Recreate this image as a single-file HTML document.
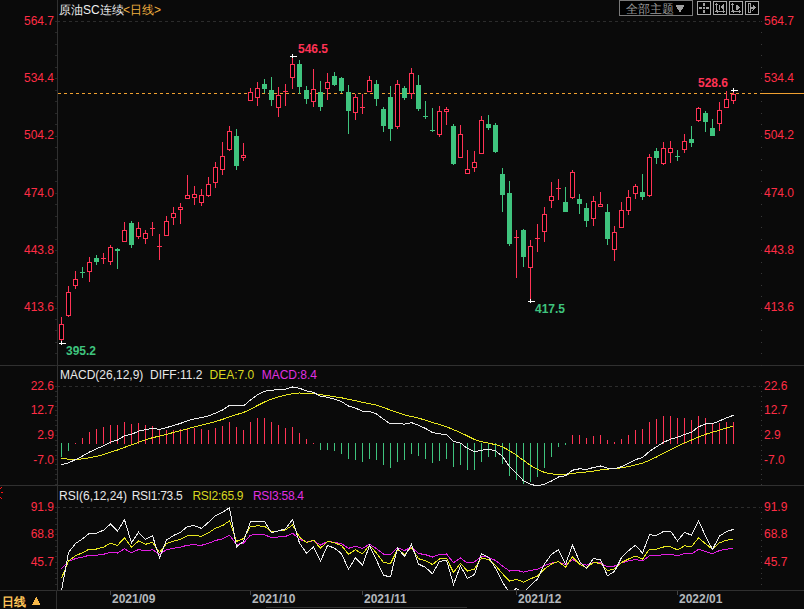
<!DOCTYPE html>
<html><head><meta charset="utf-8">
<style>
html,body{margin:0;padding:0;background:#0a0a0a;}
body{width:804px;height:609px;overflow:hidden;position:relative;font-family:"Liberation Sans",sans-serif;}
svg{position:absolute;left:0;top:0;}
.ax{font-size:12px;fill:#ff2d45;font-family:"Liberation Sans",sans-serif;}
.hd{font-size:12px;font-family:"Liberation Sans",sans-serif;}
.bd{font-size:12px;font-weight:bold;font-family:"Liberation Sans",sans-serif;}
</style></head><body>
<svg width="804" height="609" viewBox="0 0 804 609" shape-rendering="crispEdges">
<defs><clipPath id="rc"><rect x="58" y="486" width="703" height="104"/></clipPath></defs>
<rect width="804" height="609" fill="#0a0a0a"/>
<!-- frame -->
<rect x="57" y="0" width="1" height="590" fill="#303030"/><rect x="56" y="591" width="1" height="18" fill="#303030"/>
<rect x="0" y="365" width="804" height="1" fill="#303030"/>
<rect x="0" y="485" width="804" height="1" fill="#303030"/>
<rect x="0" y="590" width="804" height="1" fill="#303030"/>
<line x1="58" y1="21.5" x2="760" y2="21.5" stroke="#2c2c2c" stroke-dasharray="3,3" stroke-dashoffset="1"/>
<line x1="58" y1="386.5" x2="760" y2="386.5" stroke="#2c2c2c" stroke-dasharray="3,3" stroke-dashoffset="1"/>
<line x1="58" y1="507.5" x2="760" y2="507.5" stroke="#2c2c2c" stroke-dasharray="3,3" stroke-dashoffset="1"/>
<rect x="55" y="21" width="2" height="1" fill="#282828"/>
<rect x="761" y="21" width="1" height="1" fill="#383838"/>
<rect x="55" y="32" width="2" height="1" fill="#282828"/>
<rect x="761" y="32" width="1" height="1" fill="#383838"/>
<rect x="55" y="44" width="2" height="1" fill="#282828"/>
<rect x="761" y="44" width="1" height="1" fill="#383838"/>
<rect x="55" y="55" width="2" height="1" fill="#282828"/>
<rect x="761" y="55" width="1" height="1" fill="#383838"/>
<rect x="55" y="67" width="2" height="1" fill="#282828"/>
<rect x="761" y="67" width="1" height="1" fill="#383838"/>
<rect x="55" y="78" width="2" height="1" fill="#282828"/>
<rect x="761" y="78" width="1" height="1" fill="#383838"/>
<rect x="55" y="90" width="2" height="1" fill="#282828"/>
<rect x="761" y="90" width="1" height="1" fill="#383838"/>
<rect x="55" y="101" width="2" height="1" fill="#282828"/>
<rect x="761" y="101" width="1" height="1" fill="#383838"/>
<rect x="55" y="113" width="2" height="1" fill="#282828"/>
<rect x="761" y="113" width="1" height="1" fill="#383838"/>
<rect x="55" y="124" width="2" height="1" fill="#282828"/>
<rect x="761" y="124" width="1" height="1" fill="#383838"/>
<rect x="55" y="136" width="2" height="1" fill="#282828"/>
<rect x="761" y="136" width="1" height="1" fill="#383838"/>
<rect x="55" y="147" width="2" height="1" fill="#282828"/>
<rect x="761" y="147" width="1" height="1" fill="#383838"/>
<rect x="55" y="159" width="2" height="1" fill="#282828"/>
<rect x="761" y="159" width="1" height="1" fill="#383838"/>
<rect x="55" y="170" width="2" height="1" fill="#282828"/>
<rect x="761" y="170" width="1" height="1" fill="#383838"/>
<rect x="55" y="181" width="2" height="1" fill="#282828"/>
<rect x="761" y="181" width="1" height="1" fill="#383838"/>
<rect x="55" y="193" width="2" height="1" fill="#282828"/>
<rect x="761" y="193" width="1" height="1" fill="#383838"/>
<rect x="55" y="204" width="2" height="1" fill="#282828"/>
<rect x="761" y="204" width="1" height="1" fill="#383838"/>
<rect x="55" y="216" width="2" height="1" fill="#282828"/>
<rect x="761" y="216" width="1" height="1" fill="#383838"/>
<rect x="55" y="227" width="2" height="1" fill="#282828"/>
<rect x="761" y="227" width="1" height="1" fill="#383838"/>
<rect x="55" y="239" width="2" height="1" fill="#282828"/>
<rect x="761" y="239" width="1" height="1" fill="#383838"/>
<rect x="55" y="250" width="2" height="1" fill="#282828"/>
<rect x="761" y="250" width="1" height="1" fill="#383838"/>
<rect x="55" y="262" width="2" height="1" fill="#282828"/>
<rect x="761" y="262" width="1" height="1" fill="#383838"/>
<rect x="55" y="273" width="2" height="1" fill="#282828"/>
<rect x="761" y="273" width="1" height="1" fill="#383838"/>
<rect x="55" y="285" width="2" height="1" fill="#282828"/>
<rect x="761" y="285" width="1" height="1" fill="#383838"/>
<rect x="55" y="296" width="2" height="1" fill="#282828"/>
<rect x="761" y="296" width="1" height="1" fill="#383838"/>
<rect x="55" y="308" width="2" height="1" fill="#282828"/>
<rect x="761" y="308" width="1" height="1" fill="#383838"/>
<rect x="55" y="319" width="2" height="1" fill="#282828"/>
<rect x="761" y="319" width="1" height="1" fill="#383838"/>
<rect x="55" y="330" width="2" height="1" fill="#282828"/>
<rect x="761" y="330" width="1" height="1" fill="#383838"/>
<rect x="55" y="342" width="2" height="1" fill="#282828"/>
<rect x="761" y="342" width="1" height="1" fill="#383838"/>
<rect x="55" y="353" width="2" height="1" fill="#282828"/>
<rect x="761" y="353" width="1" height="1" fill="#383838"/>
<rect x="55" y="365" width="2" height="1" fill="#282828"/>
<rect x="761" y="365" width="1" height="1" fill="#383838"/>
<rect x="55" y="386" width="2" height="1" fill="#282828"/>
<rect x="761" y="386" width="1" height="1" fill="#383838"/>
<rect x="55" y="391" width="2" height="1" fill="#282828"/>
<rect x="761" y="391" width="1" height="1" fill="#383838"/>
<rect x="55" y="396" width="2" height="1" fill="#282828"/>
<rect x="761" y="396" width="1" height="1" fill="#383838"/>
<rect x="55" y="401" width="2" height="1" fill="#282828"/>
<rect x="761" y="401" width="1" height="1" fill="#383838"/>
<rect x="55" y="406" width="2" height="1" fill="#282828"/>
<rect x="761" y="406" width="1" height="1" fill="#383838"/>
<rect x="55" y="410" width="2" height="1" fill="#282828"/>
<rect x="761" y="410" width="1" height="1" fill="#383838"/>
<rect x="55" y="415" width="2" height="1" fill="#282828"/>
<rect x="761" y="415" width="1" height="1" fill="#383838"/>
<rect x="55" y="420" width="2" height="1" fill="#282828"/>
<rect x="761" y="420" width="1" height="1" fill="#383838"/>
<rect x="55" y="425" width="2" height="1" fill="#282828"/>
<rect x="761" y="425" width="1" height="1" fill="#383838"/>
<rect x="55" y="430" width="2" height="1" fill="#282828"/>
<rect x="761" y="430" width="1" height="1" fill="#383838"/>
<rect x="55" y="435" width="2" height="1" fill="#282828"/>
<rect x="761" y="435" width="1" height="1" fill="#383838"/>
<rect x="55" y="440" width="2" height="1" fill="#282828"/>
<rect x="761" y="440" width="1" height="1" fill="#383838"/>
<rect x="55" y="445" width="2" height="1" fill="#282828"/>
<rect x="761" y="445" width="1" height="1" fill="#383838"/>
<rect x="55" y="450" width="2" height="1" fill="#282828"/>
<rect x="761" y="450" width="1" height="1" fill="#383838"/>
<rect x="55" y="455" width="2" height="1" fill="#282828"/>
<rect x="761" y="455" width="1" height="1" fill="#383838"/>
<rect x="55" y="459" width="2" height="1" fill="#282828"/>
<rect x="761" y="459" width="1" height="1" fill="#383838"/>
<rect x="55" y="464" width="2" height="1" fill="#282828"/>
<rect x="761" y="464" width="1" height="1" fill="#383838"/>
<rect x="55" y="469" width="2" height="1" fill="#282828"/>
<rect x="761" y="469" width="1" height="1" fill="#383838"/>
<rect x="55" y="474" width="2" height="1" fill="#282828"/>
<rect x="761" y="474" width="1" height="1" fill="#383838"/>
<rect x="55" y="479" width="2" height="1" fill="#282828"/>
<rect x="761" y="479" width="1" height="1" fill="#383838"/>
<rect x="55" y="484" width="2" height="1" fill="#282828"/>
<rect x="761" y="484" width="1" height="1" fill="#383838"/>
<rect x="55" y="507" width="2" height="1" fill="#282828"/>
<rect x="761" y="507" width="1" height="1" fill="#383838"/>
<rect x="55" y="512" width="2" height="1" fill="#282828"/>
<rect x="761" y="512" width="1" height="1" fill="#383838"/>
<rect x="55" y="518" width="2" height="1" fill="#282828"/>
<rect x="761" y="518" width="1" height="1" fill="#383838"/>
<rect x="55" y="524" width="2" height="1" fill="#282828"/>
<rect x="761" y="524" width="1" height="1" fill="#383838"/>
<rect x="55" y="529" width="2" height="1" fill="#282828"/>
<rect x="761" y="529" width="1" height="1" fill="#383838"/>
<rect x="55" y="534" width="2" height="1" fill="#282828"/>
<rect x="761" y="534" width="1" height="1" fill="#383838"/>
<rect x="55" y="540" width="2" height="1" fill="#282828"/>
<rect x="761" y="540" width="1" height="1" fill="#383838"/>
<rect x="55" y="546" width="2" height="1" fill="#282828"/>
<rect x="761" y="546" width="1" height="1" fill="#383838"/>
<rect x="55" y="551" width="2" height="1" fill="#282828"/>
<rect x="761" y="551" width="1" height="1" fill="#383838"/>
<rect x="55" y="556" width="2" height="1" fill="#282828"/>
<rect x="761" y="556" width="1" height="1" fill="#383838"/>
<rect x="55" y="562" width="2" height="1" fill="#282828"/>
<rect x="761" y="562" width="1" height="1" fill="#383838"/>
<rect x="55" y="568" width="2" height="1" fill="#282828"/>
<rect x="761" y="568" width="1" height="1" fill="#383838"/>
<rect x="55" y="573" width="2" height="1" fill="#282828"/>
<rect x="761" y="573" width="1" height="1" fill="#383838"/>
<rect x="55" y="578" width="2" height="1" fill="#282828"/>
<rect x="761" y="578" width="1" height="1" fill="#383838"/>
<rect x="55" y="584" width="2" height="1" fill="#282828"/>
<rect x="761" y="584" width="1" height="1" fill="#383838"/>
<rect x="55" y="590" width="2" height="1" fill="#282828"/>
<rect x="761" y="590" width="1" height="1" fill="#383838"/>
<line x1="58" y1="93.5" x2="760" y2="93.5" stroke="#f0a030" stroke-dasharray="3,3"/>
<rect x="760" y="93" width="44" height="1" fill="#f0a030"/>
<rect x="61" y="317" width="1" height="7" fill="#ff3355"/>
<rect x="61" y="339" width="1" height="4" fill="#ff3355"/>
<rect x="59.5" y="324.5" width="4" height="15" fill="#000" stroke="#ff3355" stroke-width="1"/>
<rect x="68" y="286" width="1" height="6" fill="#ff3355"/>
<rect x="68" y="315" width="1" height="2" fill="#ff3355"/>
<rect x="66.5" y="292.5" width="4" height="23" fill="#000" stroke="#ff3355" stroke-width="1"/>
<rect x="75" y="271" width="1" height="8" fill="#ff3355"/>
<rect x="75" y="285" width="1" height="4" fill="#ff3355"/>
<rect x="73.5" y="279.5" width="4" height="6" fill="#000" stroke="#ff3355" stroke-width="1"/>
<rect x="82" y="267" width="1" height="11" fill="#3fc47e"/>
<rect x="80" y="272" width="5" height="1" fill="#3fc47e"/>
<rect x="89" y="257" width="1" height="5" fill="#ff3355"/>
<rect x="89" y="271" width="1" height="11" fill="#ff3355"/>
<rect x="87.5" y="262.5" width="4" height="9" fill="#000" stroke="#ff3355" stroke-width="1"/>
<rect x="96" y="255" width="1" height="10" fill="#3fc47e"/>
<rect x="94" y="258" width="5" height="4" fill="#3fc47e"/>
<rect x="101" y="258" width="5" height="1" fill="#ff3355"/>
<rect x="103" y="253" width="1" height="11" fill="#ff3355"/>
<rect x="110" y="245" width="1" height="2" fill="#ff3355"/>
<rect x="110" y="261" width="1" height="4" fill="#ff3355"/>
<rect x="108.5" y="247.5" width="4" height="14" fill="#000" stroke="#ff3355" stroke-width="1"/>
<rect x="117" y="248" width="1" height="21" fill="#3fc47e"/>
<rect x="115" y="249" width="5" height="2" fill="#3fc47e"/>
<rect x="124" y="222" width="1" height="8" fill="#ff3355"/>
<rect x="122.5" y="230.5" width="4" height="11" fill="#000" stroke="#ff3355" stroke-width="1"/>
<rect x="131" y="221" width="1" height="27" fill="#3fc47e"/>
<rect x="129" y="223" width="5" height="22" fill="#3fc47e"/>
<rect x="138" y="222" width="1" height="6" fill="#ff3355"/>
<rect x="138" y="236" width="1" height="3" fill="#ff3355"/>
<rect x="136.5" y="228.5" width="4" height="8" fill="#000" stroke="#ff3355" stroke-width="1"/>
<rect x="145" y="230" width="1" height="3" fill="#ff3355"/>
<rect x="145" y="238" width="1" height="6" fill="#ff3355"/>
<rect x="143.5" y="233.5" width="4" height="5" fill="#000" stroke="#ff3355" stroke-width="1"/>
<rect x="150" y="228" width="5" height="1" fill="#ff3355"/>
<rect x="152" y="222" width="1" height="14" fill="#ff3355"/>
<rect x="157" y="246" width="5" height="1" fill="#ff3355"/>
<rect x="159" y="234" width="1" height="26" fill="#ff3355"/>
<rect x="166" y="216" width="1" height="5" fill="#ff3355"/>
<rect x="164.5" y="221.5" width="4" height="14" fill="#000" stroke="#ff3355" stroke-width="1"/>
<rect x="173" y="207" width="1" height="6" fill="#ff3355"/>
<rect x="173" y="217" width="1" height="8" fill="#ff3355"/>
<rect x="171.5" y="213.5" width="4" height="4" fill="#000" stroke="#ff3355" stroke-width="1"/>
<rect x="180" y="203" width="1" height="4" fill="#ff3355"/>
<rect x="180" y="209" width="1" height="15" fill="#ff3355"/>
<rect x="178.5" y="207.5" width="4" height="2" fill="#000" stroke="#ff3355" stroke-width="1"/>
<rect x="187" y="175" width="1" height="20" fill="#ff3355"/>
<rect x="185.5" y="195.5" width="4" height="3" fill="#000" stroke="#ff3355" stroke-width="1"/>
<rect x="194" y="186" width="1" height="8" fill="#ff3355"/>
<rect x="194" y="197" width="1" height="8" fill="#ff3355"/>
<rect x="192.5" y="194.5" width="4" height="3" fill="#000" stroke="#ff3355" stroke-width="1"/>
<rect x="201" y="189" width="1" height="6" fill="#ff3355"/>
<rect x="201" y="202" width="1" height="4" fill="#ff3355"/>
<rect x="199.5" y="195.5" width="4" height="7" fill="#000" stroke="#ff3355" stroke-width="1"/>
<rect x="208" y="177" width="1" height="7" fill="#ff3355"/>
<rect x="208" y="195" width="1" height="2" fill="#ff3355"/>
<rect x="206.5" y="184.5" width="4" height="11" fill="#000" stroke="#ff3355" stroke-width="1"/>
<rect x="215" y="162" width="1" height="5" fill="#ff3355"/>
<rect x="215" y="182" width="1" height="6" fill="#ff3355"/>
<rect x="213.5" y="167.5" width="4" height="15" fill="#000" stroke="#ff3355" stroke-width="1"/>
<rect x="222" y="142" width="1" height="14" fill="#ff3355"/>
<rect x="222" y="169" width="1" height="6" fill="#ff3355"/>
<rect x="220.5" y="156.5" width="4" height="13" fill="#000" stroke="#ff3355" stroke-width="1"/>
<rect x="229" y="126" width="1" height="5" fill="#ff3355"/>
<rect x="229" y="149" width="1" height="2" fill="#ff3355"/>
<rect x="227.5" y="131.5" width="4" height="18" fill="#000" stroke="#ff3355" stroke-width="1"/>
<rect x="236" y="129" width="1" height="41" fill="#3fc47e"/>
<rect x="234" y="136" width="5" height="30" fill="#3fc47e"/>
<rect x="243" y="143" width="1" height="12" fill="#ff3355"/>
<rect x="243" y="157" width="1" height="4" fill="#ff3355"/>
<rect x="241.5" y="155.5" width="4" height="2" fill="#000" stroke="#ff3355" stroke-width="1"/>
<rect x="250" y="88" width="1" height="4" fill="#ff3355"/>
<rect x="248.5" y="92.5" width="4" height="8" fill="#000" stroke="#ff3355" stroke-width="1"/>
<rect x="257" y="82" width="1" height="6" fill="#ff3355"/>
<rect x="257" y="97" width="1" height="9" fill="#ff3355"/>
<rect x="255.5" y="88.5" width="4" height="9" fill="#000" stroke="#ff3355" stroke-width="1"/>
<rect x="264" y="79" width="1" height="14" fill="#3fc47e"/>
<rect x="262" y="84" width="5" height="5" fill="#3fc47e"/>
<rect x="271" y="77" width="1" height="29" fill="#3fc47e"/>
<rect x="269" y="90" width="5" height="10" fill="#3fc47e"/>
<rect x="278" y="87" width="1" height="8" fill="#ff3355"/>
<rect x="278" y="107" width="1" height="10" fill="#ff3355"/>
<rect x="276.5" y="95.5" width="4" height="12" fill="#000" stroke="#ff3355" stroke-width="1"/>
<rect x="283" y="91" width="5" height="1" fill="#ff3355"/>
<rect x="285" y="84" width="1" height="22" fill="#ff3355"/>
<rect x="292" y="56" width="1" height="8" fill="#ff3355"/>
<rect x="292" y="77" width="1" height="12" fill="#ff3355"/>
<rect x="290.5" y="64.5" width="4" height="13" fill="#000" stroke="#ff3355" stroke-width="1"/>
<rect x="299" y="60" width="1" height="34" fill="#3fc47e"/>
<rect x="297" y="64" width="5" height="23" fill="#3fc47e"/>
<rect x="306" y="86" width="1" height="18" fill="#3fc47e"/>
<rect x="304" y="90" width="5" height="9" fill="#3fc47e"/>
<rect x="313" y="69" width="1" height="20" fill="#ff3355"/>
<rect x="313" y="101" width="1" height="6" fill="#ff3355"/>
<rect x="311.5" y="89.5" width="4" height="12" fill="#000" stroke="#ff3355" stroke-width="1"/>
<rect x="320" y="81" width="1" height="30" fill="#3fc47e"/>
<rect x="318" y="92" width="5" height="15" fill="#3fc47e"/>
<rect x="327" y="73" width="1" height="9" fill="#ff3355"/>
<rect x="327" y="88" width="1" height="12" fill="#ff3355"/>
<rect x="325.5" y="82.5" width="4" height="6" fill="#000" stroke="#ff3355" stroke-width="1"/>
<rect x="334" y="72" width="1" height="14" fill="#3fc47e"/>
<rect x="332" y="76" width="5" height="9" fill="#3fc47e"/>
<rect x="341" y="77" width="1" height="16" fill="#3fc47e"/>
<rect x="339" y="78" width="5" height="13" fill="#3fc47e"/>
<rect x="348" y="85" width="1" height="49" fill="#3fc47e"/>
<rect x="346" y="92" width="5" height="19" fill="#3fc47e"/>
<rect x="355" y="94" width="1" height="3" fill="#ff3355"/>
<rect x="355" y="112" width="1" height="8" fill="#ff3355"/>
<rect x="353.5" y="97.5" width="4" height="15" fill="#000" stroke="#ff3355" stroke-width="1"/>
<rect x="360" y="107" width="5" height="1" fill="#ff3355"/>
<rect x="362" y="94" width="1" height="20" fill="#ff3355"/>
<rect x="369" y="76" width="1" height="4" fill="#ff3355"/>
<rect x="367.5" y="80.5" width="4" height="11" fill="#000" stroke="#ff3355" stroke-width="1"/>
<rect x="376" y="80" width="1" height="26" fill="#3fc47e"/>
<rect x="374" y="84" width="5" height="15" fill="#3fc47e"/>
<rect x="383" y="107" width="1" height="25" fill="#3fc47e"/>
<rect x="381" y="109" width="5" height="17" fill="#3fc47e"/>
<rect x="390" y="86" width="1" height="55" fill="#3fc47e"/>
<rect x="388" y="97" width="5" height="32" fill="#3fc47e"/>
<rect x="397" y="80" width="1" height="4" fill="#ff3355"/>
<rect x="397" y="126" width="1" height="3" fill="#ff3355"/>
<rect x="395.5" y="84.5" width="4" height="42" fill="#000" stroke="#ff3355" stroke-width="1"/>
<rect x="404" y="86" width="1" height="14" fill="#3fc47e"/>
<rect x="402" y="88" width="5" height="10" fill="#3fc47e"/>
<rect x="411" y="68" width="1" height="5" fill="#ff3355"/>
<rect x="411" y="93" width="1" height="6" fill="#ff3355"/>
<rect x="409.5" y="73.5" width="4" height="20" fill="#000" stroke="#ff3355" stroke-width="1"/>
<rect x="418" y="75" width="1" height="36" fill="#3fc47e"/>
<rect x="416" y="85" width="5" height="24" fill="#3fc47e"/>
<rect x="425" y="101" width="1" height="18" fill="#3fc47e"/>
<rect x="423" y="116" width="5" height="1" fill="#3fc47e"/>
<rect x="432" y="108" width="1" height="24" fill="#3fc47e"/>
<rect x="430" y="130" width="5" height="1" fill="#3fc47e"/>
<rect x="439" y="106" width="1" height="5" fill="#ff3355"/>
<rect x="439" y="134" width="1" height="3" fill="#ff3355"/>
<rect x="437.5" y="111.5" width="4" height="23" fill="#000" stroke="#ff3355" stroke-width="1"/>
<rect x="446" y="107" width="1" height="2" fill="#ff3355"/>
<rect x="446" y="111" width="1" height="14" fill="#ff3355"/>
<rect x="444.5" y="109.5" width="4" height="2" fill="#000" stroke="#ff3355" stroke-width="1"/>
<rect x="453" y="124" width="1" height="41" fill="#3fc47e"/>
<rect x="451" y="126" width="5" height="38" fill="#3fc47e"/>
<rect x="460" y="125" width="1" height="9" fill="#ff3355"/>
<rect x="458.5" y="134.5" width="4" height="23" fill="#000" stroke="#ff3355" stroke-width="1"/>
<rect x="467" y="150" width="1" height="19" fill="#ff3355"/>
<rect x="465.5" y="169.5" width="4" height="4" fill="#000" stroke="#ff3355" stroke-width="1"/>
<rect x="474" y="151" width="1" height="11" fill="#ff3355"/>
<rect x="474" y="167" width="1" height="5" fill="#ff3355"/>
<rect x="472.5" y="162.5" width="4" height="5" fill="#000" stroke="#ff3355" stroke-width="1"/>
<rect x="481" y="116" width="1" height="4" fill="#ff3355"/>
<rect x="479.5" y="120.5" width="4" height="33" fill="#000" stroke="#ff3355" stroke-width="1"/>
<rect x="488" y="115" width="1" height="15" fill="#3fc47e"/>
<rect x="486" y="124" width="5" height="4" fill="#3fc47e"/>
<rect x="495" y="123" width="1" height="30" fill="#3fc47e"/>
<rect x="493" y="125" width="5" height="27" fill="#3fc47e"/>
<rect x="502" y="168" width="1" height="44" fill="#3fc47e"/>
<rect x="500" y="174" width="5" height="21" fill="#3fc47e"/>
<rect x="509" y="181" width="1" height="65" fill="#3fc47e"/>
<rect x="507" y="193" width="5" height="51" fill="#3fc47e"/>
<rect x="514" y="237" width="5" height="1" fill="#ff3355"/>
<rect x="516" y="230" width="1" height="48" fill="#ff3355"/>
<rect x="523" y="229" width="1" height="38" fill="#3fc47e"/>
<rect x="521" y="230" width="5" height="27" fill="#3fc47e"/>
<rect x="530" y="240" width="1" height="6" fill="#ff3355"/>
<rect x="530" y="267" width="1" height="35" fill="#ff3355"/>
<rect x="528.5" y="246.5" width="4" height="21" fill="#000" stroke="#ff3355" stroke-width="1"/>
<rect x="535" y="238" width="5" height="1" fill="#ff3355"/>
<rect x="537" y="224" width="1" height="28" fill="#ff3355"/>
<rect x="544" y="207" width="1" height="7" fill="#ff3355"/>
<rect x="544" y="231" width="1" height="11" fill="#ff3355"/>
<rect x="542.5" y="214.5" width="4" height="17" fill="#000" stroke="#ff3355" stroke-width="1"/>
<rect x="551" y="182" width="1" height="14" fill="#ff3355"/>
<rect x="551" y="200" width="1" height="8" fill="#ff3355"/>
<rect x="549.5" y="196.5" width="4" height="4" fill="#000" stroke="#ff3355" stroke-width="1"/>
<rect x="556" y="188" width="5" height="1" fill="#ff3355"/>
<rect x="558" y="179" width="1" height="21" fill="#ff3355"/>
<rect x="565" y="187" width="1" height="25" fill="#3fc47e"/>
<rect x="563" y="202" width="5" height="10" fill="#3fc47e"/>
<rect x="572" y="170" width="1" height="2" fill="#ff3355"/>
<rect x="572" y="197" width="1" height="2" fill="#ff3355"/>
<rect x="570.5" y="172.5" width="4" height="25" fill="#000" stroke="#ff3355" stroke-width="1"/>
<rect x="579" y="194" width="1" height="20" fill="#3fc47e"/>
<rect x="577" y="199" width="5" height="5" fill="#3fc47e"/>
<rect x="586" y="203" width="1" height="24" fill="#3fc47e"/>
<rect x="584" y="208" width="5" height="13" fill="#3fc47e"/>
<rect x="593" y="196" width="1" height="5" fill="#ff3355"/>
<rect x="593" y="218" width="1" height="8" fill="#ff3355"/>
<rect x="591.5" y="201.5" width="4" height="17" fill="#000" stroke="#ff3355" stroke-width="1"/>
<rect x="600" y="192" width="1" height="12" fill="#ff3355"/>
<rect x="598.5" y="204.5" width="4" height="2" fill="#000" stroke="#ff3355" stroke-width="1"/>
<rect x="607" y="204" width="1" height="41" fill="#3fc47e"/>
<rect x="605" y="212" width="5" height="27" fill="#3fc47e"/>
<rect x="614" y="226" width="1" height="6" fill="#ff3355"/>
<rect x="614" y="249" width="1" height="12" fill="#ff3355"/>
<rect x="612.5" y="232.5" width="4" height="17" fill="#000" stroke="#ff3355" stroke-width="1"/>
<rect x="621" y="202" width="1" height="8" fill="#ff3355"/>
<rect x="619.5" y="210.5" width="4" height="17" fill="#000" stroke="#ff3355" stroke-width="1"/>
<rect x="628" y="190" width="1" height="7" fill="#ff3355"/>
<rect x="628" y="210" width="1" height="5" fill="#ff3355"/>
<rect x="626.5" y="197.5" width="4" height="13" fill="#000" stroke="#ff3355" stroke-width="1"/>
<rect x="635" y="184" width="1" height="2" fill="#ff3355"/>
<rect x="635" y="193" width="1" height="6" fill="#ff3355"/>
<rect x="633.5" y="186.5" width="4" height="7" fill="#000" stroke="#ff3355" stroke-width="1"/>
<rect x="642" y="174" width="1" height="26" fill="#3fc47e"/>
<rect x="640" y="192" width="5" height="5" fill="#3fc47e"/>
<rect x="649" y="154" width="1" height="3" fill="#ff3355"/>
<rect x="649" y="195" width="1" height="2" fill="#ff3355"/>
<rect x="647.5" y="157.5" width="4" height="38" fill="#000" stroke="#ff3355" stroke-width="1"/>
<rect x="656" y="148" width="1" height="16" fill="#3fc47e"/>
<rect x="654" y="151" width="5" height="7" fill="#3fc47e"/>
<rect x="663" y="142" width="1" height="6" fill="#ff3355"/>
<rect x="663" y="163" width="1" height="2" fill="#ff3355"/>
<rect x="661.5" y="148.5" width="4" height="15" fill="#000" stroke="#ff3355" stroke-width="1"/>
<rect x="670" y="141" width="1" height="7" fill="#ff3355"/>
<rect x="670" y="152" width="1" height="11" fill="#ff3355"/>
<rect x="668.5" y="148.5" width="4" height="4" fill="#000" stroke="#ff3355" stroke-width="1"/>
<rect x="677" y="150" width="1" height="11" fill="#3fc47e"/>
<rect x="675" y="156" width="5" height="1" fill="#3fc47e"/>
<rect x="684" y="134" width="1" height="7" fill="#ff3355"/>
<rect x="684" y="149" width="1" height="4" fill="#ff3355"/>
<rect x="682.5" y="141.5" width="4" height="8" fill="#000" stroke="#ff3355" stroke-width="1"/>
<rect x="691" y="126" width="1" height="21" fill="#3fc47e"/>
<rect x="689" y="139" width="5" height="4" fill="#3fc47e"/>
<rect x="698" y="107" width="1" height="1" fill="#ff3355"/>
<rect x="698" y="120" width="1" height="2" fill="#ff3355"/>
<rect x="696.5" y="108.5" width="4" height="12" fill="#000" stroke="#ff3355" stroke-width="1"/>
<rect x="705" y="111" width="1" height="21" fill="#3fc47e"/>
<rect x="703" y="113" width="5" height="9" fill="#3fc47e"/>
<rect x="712" y="119" width="1" height="17" fill="#3fc47e"/>
<rect x="710" y="128" width="5" height="8" fill="#3fc47e"/>
<rect x="719" y="102" width="1" height="8" fill="#ff3355"/>
<rect x="719" y="123" width="1" height="8" fill="#ff3355"/>
<rect x="717.5" y="110.5" width="4" height="13" fill="#000" stroke="#ff3355" stroke-width="1"/>
<rect x="726" y="91" width="1" height="8" fill="#ff3355"/>
<rect x="724.5" y="99.5" width="4" height="8" fill="#000" stroke="#ff3355" stroke-width="1"/>
<rect x="733" y="90" width="1" height="4" fill="#ff3355"/>
<rect x="733" y="100" width="1" height="4" fill="#ff3355"/>
<rect x="731.5" y="94.5" width="4" height="6" fill="#000" stroke="#ff3355" stroke-width="1"/>
<rect x="731" y="90" width="7" height="1" fill="#fff"/><rect x="733" y="88" width="1" height="4" fill="#fff"/><rect x="290" y="56" width="7" height="1" fill="#fff"/><rect x="292" y="54" width="1" height="4" fill="#fff"/><rect x="59" y="343" width="7" height="1" fill="#fff"/><rect x="61" y="341" width="1" height="4" fill="#fff"/><rect x="528" y="301" width="7" height="1" fill="#fff"/><rect x="530" y="299" width="1" height="4" fill="#fff"/>
<text x="298" y="53" class="bd" fill="#ff3355">546.5</text>
<text x="698" y="87" class="bd" fill="#ff3355">528.6</text>
<text x="66" y="355" class="bd" fill="#3fc47e">395.2</text>
<text x="535" y="313" class="bd" fill="#3fc47e">417.5</text>
<rect x="61" y="443" width="1" height="14" fill="#3fc47e"/>
<rect x="68" y="443" width="1" height="8" fill="#3fc47e"/>
<rect x="75" y="443" width="1" height="1" fill="#ff3355"/>
<rect x="82" y="438" width="1" height="6" fill="#ff3355"/>
<rect x="89" y="432" width="1" height="12" fill="#ff3355"/>
<rect x="96" y="429" width="1" height="15" fill="#ff3355"/>
<rect x="103" y="427" width="1" height="17" fill="#ff3355"/>
<rect x="110" y="425" width="1" height="19" fill="#ff3355"/>
<rect x="117" y="425" width="1" height="19" fill="#ff3355"/>
<rect x="124" y="422" width="1" height="22" fill="#ff3355"/>
<rect x="131" y="424" width="1" height="20" fill="#ff3355"/>
<rect x="138" y="423" width="1" height="21" fill="#ff3355"/>
<rect x="145" y="425" width="1" height="19" fill="#ff3355"/>
<rect x="152" y="426" width="1" height="18" fill="#ff3355"/>
<rect x="159" y="430" width="1" height="14" fill="#ff3355"/>
<rect x="166" y="430" width="1" height="14" fill="#ff3355"/>
<rect x="173" y="430" width="1" height="14" fill="#ff3355"/>
<rect x="180" y="429" width="1" height="15" fill="#ff3355"/>
<rect x="187" y="428" width="1" height="16" fill="#ff3355"/>
<rect x="194" y="428" width="1" height="16" fill="#ff3355"/>
<rect x="201" y="429" width="1" height="15" fill="#ff3355"/>
<rect x="208" y="430" width="1" height="14" fill="#ff3355"/>
<rect x="215" y="428" width="1" height="16" fill="#ff3355"/>
<rect x="222" y="426" width="1" height="18" fill="#ff3355"/>
<rect x="229" y="422" width="1" height="22" fill="#ff3355"/>
<rect x="236" y="427" width="1" height="17" fill="#ff3355"/>
<rect x="243" y="430" width="1" height="14" fill="#ff3355"/>
<rect x="250" y="422" width="1" height="22" fill="#ff3355"/>
<rect x="257" y="418" width="1" height="26" fill="#ff3355"/>
<rect x="264" y="418" width="1" height="26" fill="#ff3355"/>
<rect x="271" y="422" width="1" height="22" fill="#ff3355"/>
<rect x="278" y="425" width="1" height="19" fill="#ff3355"/>
<rect x="285" y="428" width="1" height="16" fill="#ff3355"/>
<rect x="292" y="427" width="1" height="17" fill="#ff3355"/>
<rect x="299" y="433" width="1" height="11" fill="#ff3355"/>
<rect x="306" y="439" width="1" height="5" fill="#ff3355"/>
<rect x="313" y="443" width="1" height="1" fill="#ff3355"/>
<rect x="320" y="443" width="1" height="7" fill="#3fc47e"/>
<rect x="327" y="443" width="1" height="7" fill="#3fc47e"/>
<rect x="334" y="443" width="1" height="8" fill="#3fc47e"/>
<rect x="341" y="443" width="1" height="11" fill="#3fc47e"/>
<rect x="348" y="443" width="1" height="16" fill="#3fc47e"/>
<rect x="355" y="443" width="1" height="17" fill="#3fc47e"/>
<rect x="362" y="443" width="1" height="19" fill="#3fc47e"/>
<rect x="369" y="443" width="1" height="16" fill="#3fc47e"/>
<rect x="376" y="443" width="1" height="17" fill="#3fc47e"/>
<rect x="383" y="443" width="1" height="22" fill="#3fc47e"/>
<rect x="390" y="443" width="1" height="25" fill="#3fc47e"/>
<rect x="397" y="443" width="1" height="19" fill="#3fc47e"/>
<rect x="404" y="443" width="1" height="17" fill="#3fc47e"/>
<rect x="411" y="443" width="1" height="11" fill="#3fc47e"/>
<rect x="418" y="443" width="1" height="13" fill="#3fc47e"/>
<rect x="425" y="443" width="1" height="16" fill="#3fc47e"/>
<rect x="432" y="443" width="1" height="20" fill="#3fc47e"/>
<rect x="439" y="443" width="1" height="18" fill="#3fc47e"/>
<rect x="446" y="443" width="1" height="16" fill="#3fc47e"/>
<rect x="453" y="443" width="1" height="24" fill="#3fc47e"/>
<rect x="460" y="443" width="1" height="22" fill="#3fc47e"/>
<rect x="467" y="443" width="1" height="27" fill="#3fc47e"/>
<rect x="474" y="443" width="1" height="27" fill="#3fc47e"/>
<rect x="481" y="443" width="1" height="19" fill="#3fc47e"/>
<rect x="488" y="443" width="1" height="14" fill="#3fc47e"/>
<rect x="495" y="443" width="1" height="14" fill="#3fc47e"/>
<rect x="502" y="443" width="1" height="21" fill="#3fc47e"/>
<rect x="509" y="443" width="1" height="33" fill="#3fc47e"/>
<rect x="516" y="443" width="1" height="37" fill="#3fc47e"/>
<rect x="523" y="443" width="1" height="41" fill="#3fc47e"/>
<rect x="530" y="443" width="1" height="39" fill="#3fc47e"/>
<rect x="537" y="443" width="1" height="34" fill="#3fc47e"/>
<rect x="544" y="443" width="1" height="25" fill="#3fc47e"/>
<rect x="551" y="443" width="1" height="14" fill="#3fc47e"/>
<rect x="558" y="443" width="1" height="4" fill="#3fc47e"/>
<rect x="565" y="443" width="1" height="2" fill="#3fc47e"/>
<rect x="572" y="435" width="1" height="9" fill="#ff3355"/>
<rect x="579" y="435" width="1" height="9" fill="#ff3355"/>
<rect x="586" y="438" width="1" height="6" fill="#ff3355"/>
<rect x="593" y="436" width="1" height="8" fill="#ff3355"/>
<rect x="600" y="435" width="1" height="9" fill="#ff3355"/>
<rect x="607" y="440" width="1" height="4" fill="#ff3355"/>
<rect x="614" y="442" width="1" height="2" fill="#ff3355"/>
<rect x="621" y="439" width="1" height="5" fill="#ff3355"/>
<rect x="628" y="435" width="1" height="9" fill="#ff3355"/>
<rect x="635" y="430" width="1" height="14" fill="#ff3355"/>
<rect x="642" y="429" width="1" height="15" fill="#ff3355"/>
<rect x="649" y="422" width="1" height="22" fill="#ff3355"/>
<rect x="656" y="419" width="1" height="25" fill="#ff3355"/>
<rect x="663" y="416" width="1" height="28" fill="#ff3355"/>
<rect x="670" y="416" width="1" height="28" fill="#ff3355"/>
<rect x="677" y="418" width="1" height="26" fill="#ff3355"/>
<rect x="684" y="418" width="1" height="26" fill="#ff3355"/>
<rect x="691" y="420" width="1" height="24" fill="#ff3355"/>
<rect x="698" y="416" width="1" height="28" fill="#ff3355"/>
<rect x="705" y="418" width="1" height="26" fill="#ff3355"/>
<rect x="712" y="423" width="1" height="21" fill="#ff3355"/>
<rect x="719" y="423" width="1" height="21" fill="#ff3355"/>
<rect x="726" y="422" width="1" height="22" fill="#ff3355"/>
<rect x="733" y="422" width="1" height="22" fill="#ff3355"/><polyline points="61.5,458.1 68.5,459.2 75.5,459.4 82.5,458.9 89.5,457.8 96.5,456.4 103.5,454.5 110.5,452.3 117.5,450.0 124.5,447.4 131.5,444.9 138.5,442.3 145.5,439.9 152.5,437.7 159.5,436.1 166.5,434.3 173.5,432.5 180.5,430.7 187.5,428.8 194.5,426.9 201.5,425.2 208.5,423.4 215.5,421.5 222.5,419.4 229.5,416.8 236.5,414.6 243.5,412.5 250.5,409.3 257.5,405.5 264.5,402.0 271.5,399.1 278.5,396.8 285.5,395.2 292.5,393.7 299.5,393.0 306.5,393.2 313.5,393.6 320.5,394.6 327.5,395.6 334.5,396.7 341.5,397.8 348.5,399.3 355.5,400.7 362.5,402.4 369.5,403.7 376.5,405.2 383.5,407.4 390.5,410.2 397.5,412.6 404.5,414.9 411.5,416.5 418.5,418.2 425.5,420.1 432.5,422.4 439.5,424.6 446.5,426.7 453.5,429.7 460.5,432.6 467.5,436.0 474.5,439.5 481.5,441.7 488.5,443.2 495.5,444.6 502.5,446.9 509.5,450.6 516.5,455.2 523.5,460.4 530.5,465.4 537.5,469.5 544.5,472.4 551.5,473.9 558.5,474.4 565.5,474.4 572.5,473.5 579.5,472.5 586.5,472.0 593.5,471.1 600.5,469.9 607.5,469.1 614.5,468.6 621.5,467.8 628.5,466.6 635.5,464.9 642.5,463.1 649.5,460.3 656.5,457.0 663.5,453.3 670.5,449.6 677.5,446.2 684.5,442.9 691.5,440.0 698.5,437.0 705.5,434.3 712.5,432.3 719.5,430.1 726.5,428.0 733.5,425.9" fill="none" stroke="#e6e61e" stroke-width="1"/><polyline points="61.5,464.8 68.5,462.8 75.5,459.6 82.5,456.1 89.5,452.0 96.5,448.8 103.5,445.8 110.5,442.3 117.5,440.0 124.5,435.9 131.5,434.3 138.5,431.2 145.5,429.7 152.5,428.3 159.5,429.3 166.5,427.6 173.5,425.5 180.5,423.4 187.5,420.8 194.5,418.8 201.5,417.6 208.5,415.9 215.5,413.1 222.5,410.0 229.5,405.3 236.5,406.0 243.5,405.9 250.5,399.9 257.5,394.9 264.5,391.3 271.5,390.2 278.5,389.6 285.5,389.3 292.5,387.0 299.5,388.2 306.5,390.9 313.5,392.4 320.5,396.2 327.5,397.3 334.5,399.1 341.5,401.6 348.5,406.0 355.5,408.1 362.5,411.2 369.5,411.3 376.5,413.9 383.5,419.2 390.5,424.0 397.5,423.2 404.5,424.2 411.5,422.6 418.5,425.3 425.5,428.5 432.5,432.5 439.5,433.8 446.5,434.7 453.5,441.3 460.5,443.1 467.5,448.4 474.5,451.9 481.5,450.2 488.5,449.2 495.5,450.7 502.5,456.4 509.5,466.5 516.5,473.7 523.5,480.8 530.5,484.4 537.5,485.8 544.5,484.3 551.5,481.0 558.5,477.0 565.5,475.7 572.5,470.2 579.5,468.8 586.5,469.3 593.5,467.5 600.5,466.0 607.5,468.2 614.5,468.8 621.5,466.7 628.5,463.4 635.5,459.6 642.5,457.5 649.5,451.4 656.5,446.8 663.5,442.4 670.5,439.2 677.5,437.4 684.5,434.4 691.5,432.2 698.5,426.8 705.5,424.0 712.5,423.6 719.5,420.9 726.5,417.9 733.5,415.3" fill="none" stroke="#ececec" stroke-width="1"/>
<g clip-path="url(#rc)"><polyline points="61.5,568.7 68.5,561.3 75.5,558.6 82.5,557.1 89.5,555.2 96.5,555.2 103.5,554.3 110.5,552.2 117.5,553.1 124.5,548.9 131.5,552.8 138.5,549.5 145.5,550.9 152.5,549.8 159.5,554.3 166.5,549.7 173.5,548.2 180.5,547.2 187.5,545.1 194.5,544.8 201.5,545.3 208.5,543.3 215.5,540.5 222.5,538.8 229.5,535.2 236.5,544.7 243.5,543.1 250.5,535.1 257.5,534.7 264.5,534.8 271.5,537.6 278.5,537.0 285.5,536.4 292.5,533.3 299.5,539.2 306.5,542.1 313.5,540.8 320.5,545.0 327.5,541.6 334.5,542.3 341.5,543.7 348.5,548.3 355.5,546.3 362.5,548.4 369.5,544.3 376.5,548.6 383.5,554.1 390.5,554.6 397.5,547.8 404.5,550.5 411.5,547.1 418.5,553.5 425.5,554.7 432.5,557.0 439.5,554.3 446.5,554.0 453.5,562.7 460.5,558.1 467.5,563.0 474.5,562.0 481.5,556.1 488.5,557.2 495.5,560.5 502.5,565.9 509.5,571.1 516.5,570.2 523.5,572.1 530.5,570.5 537.5,569.2 544.5,565.6 551.5,563.1 558.5,561.8 565.5,564.8 572.5,559.4 579.5,563.2 586.5,565.2 593.5,562.5 600.5,562.9 607.5,566.9 614.5,566.0 621.5,562.8 628.5,561.0 635.5,559.6 642.5,560.9 649.5,555.7 656.5,555.7 663.5,554.5 670.5,554.4 677.5,555.7 684.5,553.6 691.5,554.0 698.5,549.3 705.5,551.6 712.5,553.9 719.5,550.5 726.5,549.1 733.5,548.5" fill="none" stroke="#e21ee2" stroke-width="1"/><polyline points="61.5,578.2 68.5,561.1 75.5,555.7 82.5,552.7 89.5,549.0 96.5,549.0 103.5,547.2 110.5,543.1 117.5,545.5 124.5,537.7 131.5,547.2 138.5,541.0 145.5,544.3 152.5,542.3 159.5,552.6 166.5,543.7 173.5,541.2 180.5,539.3 187.5,535.7 194.5,535.3 201.5,536.3 208.5,532.9 215.5,528.2 222.5,525.6 229.5,520.8 236.5,541.4 243.5,538.6 250.5,526.5 257.5,525.9 264.5,526.2 271.5,531.9 278.5,531.0 285.5,530.0 292.5,525.0 299.5,537.1 306.5,542.6 313.5,540.1 320.5,548.2 327.5,541.4 334.5,542.8 341.5,545.6 348.5,554.2 355.5,549.8 362.5,553.8 369.5,545.2 376.5,553.1 383.5,562.5 390.5,563.5 397.5,549.5 404.5,554.2 411.5,547.7 418.5,558.7 425.5,560.7 432.5,564.5 439.5,558.9 446.5,558.3 453.5,572.5 460.5,563.3 467.5,571.1 474.5,569.0 481.5,557.9 488.5,559.7 495.5,565.4 502.5,573.7 509.5,581.2 516.5,579.3 523.5,582.1 530.5,578.8 537.5,576.1 544.5,569.0 551.5,564.0 558.5,561.5 565.5,567.3 572.5,556.9 579.5,564.2 586.5,567.7 593.5,562.6 600.5,563.3 607.5,570.8 614.5,568.9 621.5,562.5 628.5,559.0 635.5,556.1 642.5,559.1 649.5,549.1 656.5,549.2 663.5,547.0 670.5,546.8 677.5,549.9 684.5,545.8 691.5,546.7 698.5,538.0 705.5,543.7 712.5,549.4 719.5,542.8 726.5,540.2 733.5,539.0" fill="none" stroke="#e6e61e" stroke-width="1"/><polyline points="61.5,590.7 68.5,552.6 75.5,543.5 82.5,538.8 89.5,533.1 96.5,533.1 103.5,530.2 110.5,524.0 117.5,531.2 124.5,519.8 131.5,542.8 138.5,532.2 145.5,539.4 152.5,535.7 159.5,557.8 166.5,540.1 173.5,535.5 180.5,532.3 187.5,526.4 194.5,525.7 201.5,528.4 208.5,522.3 215.5,515.6 222.5,512.4 229.5,507.7 236.5,546.9 243.5,541.4 250.5,521.9 257.5,521.1 264.5,521.5 271.5,532.7 278.5,530.9 285.5,528.8 292.5,519.5 299.5,543.2 306.5,553.1 313.5,547.0 320.5,561.3 327.5,545.5 334.5,548.1 341.5,553.7 348.5,569.2 355.5,557.8 362.5,565.2 369.5,545.5 376.5,560.3 383.5,575.4 390.5,576.8 397.5,547.9 404.5,556.4 411.5,544.5 418.5,564.1 425.5,567.4 432.5,573.8 439.5,561.5 446.5,560.2 453.5,584.4 460.5,566.0 467.5,578.5 474.5,574.4 481.5,553.6 488.5,557.3 495.5,568.2 502.5,582.2 509.5,592.5 516.5,588.5 523.5,592.6 530.5,585.2 537.5,579.1 544.5,563.9 551.5,554.3 558.5,549.8 565.5,564.3 572.5,545.1 579.5,561.4 586.5,568.5 593.5,558.4 600.5,559.9 607.5,575.8 614.5,571.4 621.5,557.6 628.5,550.7 635.5,545.2 642.5,553.1 649.5,534.9 656.5,535.2 663.5,531.5 670.5,531.1 677.5,540.9 684.5,532.4 691.5,535.2 698.5,520.7 705.5,536.0 712.5,549.4 719.5,536.1 726.5,531.5 733.5,529.4" fill="none" stroke="#ececec" stroke-width="1"/></g>
<text x="54" y="25.0" text-anchor="end" class="ax">564.7</text>
<text x="764" y="25.0" class="ax">564.7</text>
<text x="54" y="81.5" text-anchor="end" class="ax">534.4</text>
<text x="764" y="81.5" class="ax">534.4</text>
<text x="54" y="138.5" text-anchor="end" class="ax">504.2</text>
<text x="764" y="138.5" class="ax">504.2</text>
<text x="54" y="197.0" text-anchor="end" class="ax">474.0</text>
<text x="764" y="197.0" class="ax">474.0</text>
<text x="54" y="254.0" text-anchor="end" class="ax">443.8</text>
<text x="764" y="254.0" class="ax">443.8</text>
<text x="54" y="310.5" text-anchor="end" class="ax">413.6</text>
<text x="764" y="310.5" class="ax">413.6</text>
<text x="54" y="389.5" text-anchor="end" class="ax">22.6</text>
<text x="764" y="389.5" class="ax">22.6</text>
<text x="54" y="414.2" text-anchor="end" class="ax">12.7</text>
<text x="764" y="414.2" class="ax">12.7</text>
<text x="54" y="439.0" text-anchor="end" class="ax">2.9</text>
<text x="764" y="439.0" class="ax">2.9</text>
<text x="54" y="463.5" text-anchor="end" class="ax">-7.0</text>
<text x="764" y="463.5" class="ax">-7.0</text>
<text x="54" y="511.0" text-anchor="end" class="ax">91.9</text>
<text x="764" y="511.0" class="ax">91.9</text>
<text x="54" y="537.5" text-anchor="end" class="ax">68.8</text>
<text x="764" y="537.5" class="ax">68.8</text>
<text x="54" y="565.5" text-anchor="end" class="ax">45.7</text>
<text x="764" y="565.5" class="ax">45.7</text>
<text x="59" y="14" class="hd" fill="#f0f0f0">原油SC连续</text><text x="123" y="14" class="hd" fill="#f0b040">&lt;日线&gt;</text>
<text x="60" y="379" class="hd" fill="#e8e8e8">MACD(26,12,9)</text><text x="150" y="379" class="hd" fill="#e8e8e8">DIFF:11.2</text><text x="209.5" y="379" class="hd" fill="#d8d820">DEA:7.0</text><text x="261.7" y="379" class="hd" fill="#e030e0">MACD:8.4</text>
<text x="59" y="500" class="hd" fill="#e8e8e8">RSI(6,12,24)</text><text x="131.7" y="500" class="hd" fill="#e8e8e8" letter-spacing="-0.3">RSI1:73.5</text><text x="192.5" y="500" class="hd" fill="#d8d820" letter-spacing="-0.3">RSI2:65.9</text><text x="253" y="500" class="hd" fill="#e030e0" letter-spacing="-0.3">RSI3:58.4</text>
<g fill="#ff1010"><rect x="0" y="488" width="1" height="1"/><rect x="1" y="487" width="1" height="1"/><rect x="1" y="492" width="2" height="1"/><rect x="0" y="497" width="1" height="1"/><rect x="1" y="498" width="1" height="1"/></g>
<!-- bottom bar -->
<text x="1.5" y="606" class="bd" fill="#ffc458">日线</text>
<polygon points="36.2,596.5 40.5,605 32,605" fill="#f8b848"/>
<g class="bd" fill="#b4b8bc">
<rect x="110" y="591" width="1" height="4" fill="#444"/><text x="112" y="603">2021/09</text>
<rect x="250" y="591" width="1" height="4" fill="#444"/><text x="252" y="603">2021/10</text>
<rect x="362" y="591" width="1" height="4" fill="#444"/><text x="364" y="603">2021/11</text>
<rect x="516" y="591" width="1" height="4" fill="#444"/><text x="518" y="603">2021/12</text>
<rect x="677" y="591" width="1" height="4" fill="#444"/><text x="679" y="603">2022/01</text>
</g>
<rect x="266" y="607" width="201" height="1" fill="#303030"/>
<!-- toolbar -->
<rect x="619.5" y="0.5" width="73" height="15" fill="none" stroke="#7a7a7a"/>
<rect x="620" y="1" width="72" height="14" fill="#000"/><text x="626" y="13" class="hd" fill="#9a9a9a">全部主题</text><polygon points="675.5,5 684.5,5 680,13" fill="#a0a0a0"/>
<rect x="697.5" y="1.5" width="13" height="13" fill="#000" stroke="#a8a8a8"/>
<rect x="713.5" y="1.5" width="13" height="13" fill="#000" stroke="#a8a8a8"/>
<rect x="729.5" y="1.5" width="13" height="13" fill="#000" stroke="#a8a8a8"/>
<rect x="745.5" y="1.5" width="13" height="13" fill="#000" stroke="#a8a8a8"/>
<g fill="#a0a0a0">
<rect x="703" y="3" width="2" height="3"/><rect x="703" y="7" width="2" height="2"/><rect x="703" y="10" width="2" height="3"/>
<rect x="699" y="7" width="3" height="2"/><rect x="706" y="7" width="3" height="2"/>
</g>
<g stroke="#a0a0a0" fill="none" stroke-width="1">
<path d="M716.5 4 V12 M715 11.5 H725 M719.5 4.5 V10"/>
<path d="M732.5 4 V12 M731 11.5 H741"/>
<path d="M748 3.5 H750 V12.5 H748 Z" />
</g>
<g fill="#a0a0a0">
<path d="M714.5 5 L716.5 3 L718.5 5 Z M716 11.5 L718 9.5 V13.5 Z M724.5 11.5 L722.5 9.5 V13.5 Z M720.3 7 L723.5 3.8 V10.2 Z"/>
<path d="M730.5 5 L732.5 3 L734.5 5 Z M732 11.5 L734 9.5 V13.5 Z M741 11.5 L739 9.5 V13.5 Z M735.5 4 L740.5 7.5 L735.5 11 Z"/>
<path d="M750 6.5 H753 V8.5 H750 Z M752.5 4.5 L756.5 7.5 L752.5 10.5 Z"/>
</g>

</svg>
</body></html>
